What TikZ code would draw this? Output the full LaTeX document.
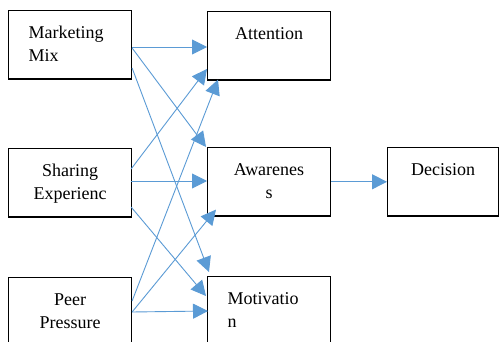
\documentclass[tikz,border=0pt]{standalone}
\usepackage{fontspec}
\setmainfont{Liberation Serif}
\usetikzlibrary{arrows.meta,calc}
\definecolor{linkblue}{HTML}{5B9BD5}
\tikzset{
	box/.style={draw, line width=1.1pt, anchor=north west, inner xsep=20pt, inner ysep=0pt,
	            text width=83pt, text height=28pt, text depth=40.5pt,
	            font=\rmfamily\fontsize{18}{22.5}\selectfont},
	link/.style={draw=linkblue, line width=0.9pt, -{Triangle[length=15pt, width=15pt]}, linkblue}
}
\begin{document}
\begin{tikzpicture}[x=1pt, y=-1pt]
	\clip (0,0) rectangle (499,342);
	\fill[white] (0,0) rectangle (499,342);
	% left column
	\node[box, align=left] (mm) at (8, 10) {Marketing\\Mix};
	\node[box, align=center] (se) at (8, 148) {Sharing\\Experienc};
	\node[box, align=center] (pp) at (8, 277) {Peer\\Pressure};
	% middle column
	\node[box, align=center] (att) at (207, 11) {Attention};
	\node[box, align=center] (awa) at (207, 147) {Awarenes\\s};
	\node[box, align=left] (mot) at (207, 276) {Motivatio\\n};
	% right
	\node[box, align=center, text width=71pt] (dec) at (387, 147) {Decision};
	% connectors
	\path[link] ($(mm.north east)+(0,37)$) -- ($(att.north west)+(0,36)$);
	\path[link] ($(mm.north east)+(0,38)$) -- ($(awa.north west)+(-1,0)$);
	\path[link] ($(mm.north east)+(0,58)$) -- ($(mot.north west)+(2,-4)$);
	\path[link] ($(se.north east)+(-1,21)$) -- ($(att.north west)+(0,58)$);
	\path[link] ($(se.north east)+(-1,33)$) -- ($(awa.north west)+(0,34)$);
	\path[link] ($(se.north east)+(-1,59)$) -- ($(mot.north west)+(-1,20)$);
	\path[link] ($(pp.north east)+(0,24)$) -- ($(att.south west)+(11,-1)$);
	\path[link] ($(pp.north east)+(0,35)$) -- ($(awa.south west)+(9,-7)$);
	\path[link] ($(pp.north east)+(0,35)$) -- ($(mot.north west)+(1,35)$);
	\path[link] (awa.east) -- (dec.west);
\end{tikzpicture}
\end{document}
